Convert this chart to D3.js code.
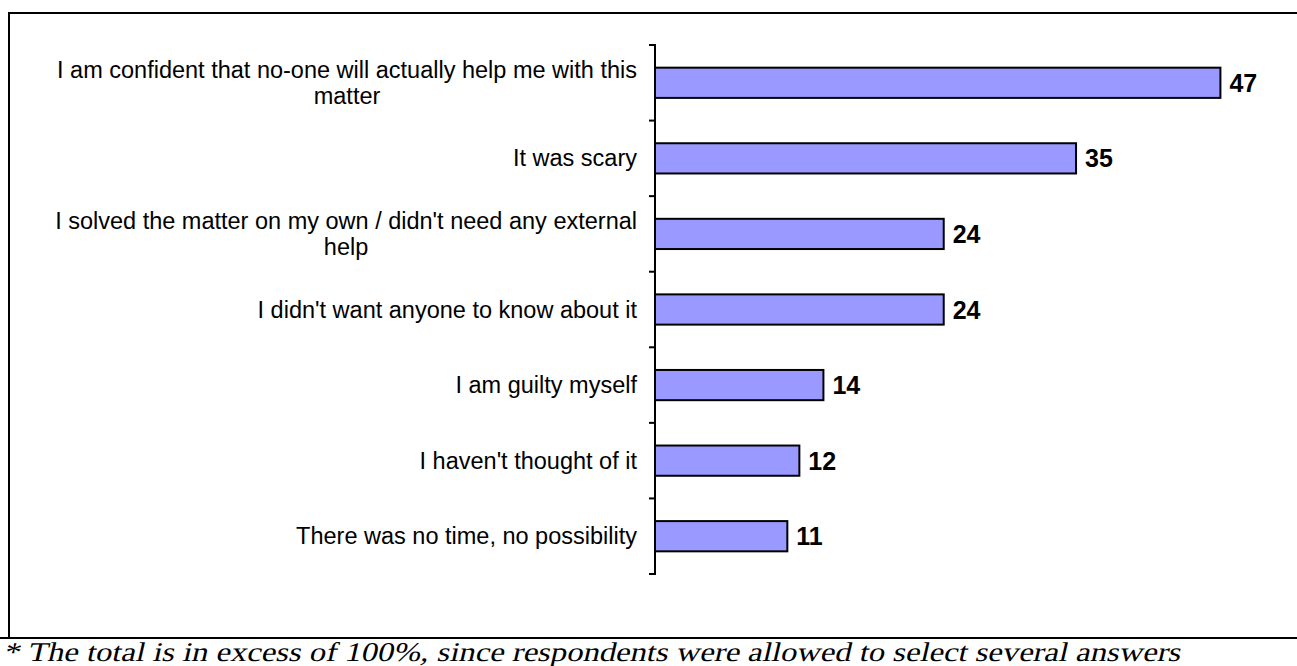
<!DOCTYPE html>
<html>
<head>
<meta charset="utf-8">
<script src="https://cdn.jsdelivr.net/npm/d3@7/dist/d3.min.js"></script>
<style>
  html, body { margin: 0; padding: 0; background: #fff; }
  svg { display: block; }
  .lbl { font-family: "Liberation Sans", Arial, sans-serif; }
  .note { font-family: "Liberation Serif", "Times New Roman", Times, serif; }
</style>
</head>
<body>
<svg id="chart" width="1297" height="666"></svg>
<script>
// Reasons for not reporting (percent of respondents)
const categories = [
  "I am confident that no-one will actually help me with this matter",
  "It was scary",
  "I solved the matter on my own / didn't need any external help",
  "I didn't want anyone to know about it",
  "I am guilty myself",
  "I haven't thought of it",
  "There was no time, no possibility"
];
const values = [47, 35, 24, 24, 14, 12, 11];
const footnote = "* The total is in excess of 100%, since respondents were allowed to select several answers";

const svg = d3.select("#chart");
const W = 1297, H = 666;

const axisX = 655;
const y = d3.scaleBand().domain(categories).range([45, 574]).paddingInner(0.6).paddingOuter(0.3);
const x = d3.scaleLinear().domain([0, 50]).range([axisX, axisX + 601.5]);

// frame
svg.append("line").attr("x1", 9).attr("x2", W).attr("y1", 13).attr("y2", 13)
  .attr("stroke", "#000").attr("stroke-width", 2);
svg.append("line").attr("x1", 9).attr("x2", 9).attr("y1", 12).attr("y2", 639)
  .attr("stroke", "#000").attr("stroke-width", 2);
svg.append("line").attr("x1", 0).attr("x2", W).attr("y1", 638).attr("y2", 638)
  .attr("stroke", "#000").attr("stroke-width", 2);

// bars
svg.append("g").selectAll("rect").data(values).join("rect")
  .attr("x", x(0))
  .attr("y", (d, i) => y(categories[i]))
  .attr("width", d => x(d) - x(0))
  .attr("height", y.bandwidth())
  .attr("fill", "#9999ff")
  .attr("stroke", "#000")
  .attr("stroke-width", 2);

// category axis with ticks between categories
const tickYs = d3.range(categories.length + 1).map(i => 45 + i * (574 - 45) / categories.length);
const axisG = svg.append("g");
axisG.append("line").attr("x1", axisX).attr("x2", axisX).attr("y1", 44).attr("y2", 575)
  .attr("stroke", "#000").attr("stroke-width", 2);
axisG.selectAll("line.tick").data(tickYs).join("line").attr("class", "tick")
  .attr("x1", axisX - 6).attr("x2", axisX).attr("y1", d => d).attr("y2", d => d)
  .attr("stroke", "#000").attr("stroke-width", 2);

// category labels, wrapped; multi-line blocks centred internally and right-aligned to the axis
const labelRight = axisX - 18;
const wrapWidth = 610;
const lineH = 26;
const labelG = svg.append("g").attr("class", "lbl")
  .attr("font-size", 23.5).attr("fill", "#000");

categories.forEach((cat, i) => {
  const cy = y(cat) + y.bandwidth() / 2;
  const probe = labelG.append("text");
  const words = cat.split(" ");
  const lines = [];
  let cur = [];
  words.forEach(w => {
    const trial = cur.concat([w]).join(" ");
    probe.text(trial);
    if (probe.node().getComputedTextLength() > wrapWidth && cur.length) {
      lines.push(cur.join(" "));
      cur = [w];
    } else cur.push(w);
  });
  if (cur.length) lines.push(cur.join(" "));
  const widths = lines.map(l => { probe.text(l); return probe.node().getComputedTextLength(); });
  probe.remove();
  const blockW = d3.max(widths);
  const cx = labelRight - blockW / 2;
  const t = labelG.append("text")
    .attr("text-anchor", "middle")
    .attr("dominant-baseline", "central");
  lines.forEach((l, j) => {
    t.append("tspan").attr("x", cx)
      .attr("y", cy + (j - (lines.length - 1) / 2) * lineH)
      .text(l);
  });
});

// value labels
svg.append("g").attr("class", "lbl").selectAll("text").data(values).join("text")
  .attr("x", d => x(d) + 9)
  .attr("y", (d, i) => y(categories[i]) + y.bandwidth() / 2)
  .attr("dominant-baseline", "central")
  .attr("font-weight", "bold").attr("font-size", 25)
  .attr("fill", "#000")
  .text(d => d);

// footnote: slanted serif, squeezed to its line
svg.append("g").attr("transform", "translate(3,661) skewX(-13)")
  .append("text").attr("class", "note")
  .attr("x", 0).attr("y", 0)
  .attr("font-size", 27)
  .attr("textLength", 1177).attr("lengthAdjust", "spacingAndGlyphs")
  .attr("fill", "#000")
  .text(footnote);
</script>
</body>
</html>
